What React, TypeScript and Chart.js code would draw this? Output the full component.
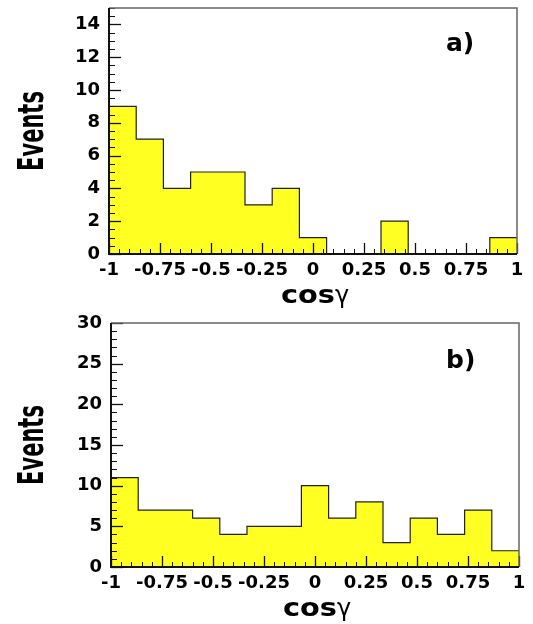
import React, { useEffect, useRef } from 'react';
import { Chart, registerables } from 'chart.js';

Chart.register(...registerables);

// ---- data ----
const xMin = -1;
const xMax = 1;
const eventsA = [9, 7, 4, 5, 5, 3, 4, 1, 0, 0, 2, 0, 0, 0, 1];
const eventsB = [11, 7, 7, 6, 4, 5, 5, 10, 6, 8, 3, 6, 4, 7, 2];
const xTickValues = [-1, -0.75, -0.5, -0.25, 0, 0.25, 0.5, 0.75, 1];
const xTickLabels = ['-1', '-0.75', '-0.5', '-0.25', '0', '0.25', '0.5', '0.75', '1'];
const yTicksA = [0, 2, 4, 6, 8, 10, 12, 14];
const yTicksB = [0, 5, 10, 15, 20, 25, 30];
const yMaxA = 15;
const yMaxB = 30;
const panelLabels = ['a)', 'b)'];
const xTitleMain = 'cos';
const xTitleSymbol = 'γ';
const yTitle = 'Events';

const FILL = '#ffff22';
const FONT = '"DejaVu Sans", "Liberation Sans", sans-serif';

function stepPoints(values: number[]) {
  const w = (xMax - xMin) / values.length;
  const pts = values.map((v, i) => ({ x: xMin + i * w, y: v }));
  pts.push({ x: xMax, y: values[values.length - 1] });
  return pts;
}

type PanelCfg = {
  values: number[];
  yTicks: number[];
  yMax: number;
  yMinor: number;
  label: string;
  top: number;
  right: number;
  axisWidth: number;
  xAxisHeight: number;
  labelDy: number;
};

const panels: PanelCfg[] = [
  { values: eventsA, yTicks: yTicksA, yMax: yMaxA, yMinor: 0.5, label: panelLabels[0], top: 8, right: 16, axisWidth: 109, xAxisHeight: 58, labelDy: 43 },
  { values: eventsB, yTicks: yTicksB, yMax: yMaxB, yMinor: 1, label: panelLabels[1], top: 11, right: 14, axisWidth: 111, xAxisHeight: 57, labelDy: 45 },
];

function makeDecorPlugin(cfg: PanelCfg) {
  return {
    id: 'decor',
    afterDatasetsDraw(chart: any) {
      const { ctx, chartArea: a, scales } = chart;
      const xs = scales.x;
      const ys = scales.y;
      ctx.save();
      ctx.strokeStyle = '#111';
      // x ticks (inside)
      const nx = Math.round((xMax - xMin) / 0.05);
      for (let i = 0; i <= nx; i++) {
        const v = xMin + i * 0.05;
        const major = xTickValues.some((t) => Math.abs(t - v) < 1e-6);
        const px = Math.round(xs.getPixelForValue(v)) + 0.5;
        ctx.lineWidth = major ? 1.3 : 1;
        ctx.beginPath();
        ctx.moveTo(px, a.bottom);
        ctx.lineTo(px, a.bottom - (major ? 11 : 5));
        ctx.stroke();
      }
      // y ticks (inside)
      const ny = Math.round(cfg.yMax / cfg.yMinor);
      for (let i = 0; i <= ny; i++) {
        const v = i * cfg.yMinor;
        const major = cfg.yTicks.some((t) => Math.abs(t - v) < 1e-6);
        const py = Math.round(ys.getPixelForValue(v)) + 0.5;
        ctx.lineWidth = major ? 1.3 : 1;
        ctx.beginPath();
        ctx.moveTo(a.left, py);
        ctx.lineTo(a.left + (major ? 12 : 6), py);
        ctx.stroke();
      }
      // frame
      ctx.strokeStyle = '#666';
      ctx.lineWidth = 1.5;
      ctx.beginPath();
      ctx.moveTo(a.left, a.top);
      ctx.lineTo(a.right, a.top);
      ctx.lineTo(a.right, a.bottom);
      ctx.stroke();
      ctx.strokeStyle = '#111';
      ctx.lineWidth = 2;
      ctx.beginPath();
      ctx.moveTo(a.left, a.top);
      ctx.lineTo(a.left, a.bottom);
      ctx.lineTo(a.right, a.bottom);
      ctx.stroke();
      ctx.restore();
    },
    afterDraw(chart: any) {
      const { ctx, chartArea: a } = chart;
      ctx.save();
      ctx.fillStyle = '#000';
      // y title
      const fs = 35;
      ctx.save();
      ctx.translate(30, (a.top + a.bottom) / 2);
      ctx.rotate(-Math.PI / 2);
      ctx.scale(0.6, 1);
      ctx.font = `bold ${fs}px ${FONT}`;
      ctx.textAlign = 'center';
      ctx.textBaseline = 'alphabetic';
      ctx.fillText(yTitle, 0, fs * 0.36);
      ctx.restore();
      // x title
      const cx = (a.left + a.right) / 2 + 2;
      const base = a.bottom + 49;
      ctx.font = `bold 24px ${FONT}`;
      const wMain = ctx.measureText(xTitleMain).width * 1.2;
      ctx.font = `24px ${FONT}`;
      const wSym = ctx.measureText(xTitleSymbol).width;
      const startX = cx - (wMain + wSym) / 2;
      ctx.save();
      ctx.translate(startX, base);
      ctx.scale(1.2, 1);
      ctx.font = `bold 24px ${FONT}`;
      ctx.textAlign = 'left';
      ctx.textBaseline = 'alphabetic';
      ctx.fillText(xTitleMain, 0, 0);
      ctx.restore();
      ctx.font = `24px ${FONT}`;
      ctx.textAlign = 'left';
      ctx.textBaseline = 'alphabetic';
      ctx.fillText(xTitleSymbol, startX + wMain, base);
      // panel label
      ctx.font = `bold 25px ${FONT}`;
      ctx.fillText(cfg.label, 446, a.top + cfg.labelDy);
      ctx.restore();
    },
  };
}

function Panel({ cfg }: { cfg: PanelCfg }) {
  const ref = useRef<HTMLCanvasElement | null>(null);
  useEffect(() => {
    if (!ref.current) return;
    const tickFont = { family: FONT, weight: 'bold' as const, size: 18 };
    const chart = new Chart(ref.current, {
      type: 'line',
      data: {
        datasets: [
          {
            data: stepPoints(cfg.values),
            stepped: 'before',
            fill: 'origin',
            backgroundColor: FILL,
            borderColor: '#222',
            borderWidth: 1.2,
            pointRadius: 0,
          },
        ],
      },
      options: {
        responsive: false,
        animation: false,
        events: [],
        layout: { padding: { top: cfg.top, right: cfg.right, left: 0, bottom: 0 } },
        plugins: { legend: { display: false }, tooltip: { enabled: false } },
        scales: {
          x: {
            type: 'linear',
            min: xMin,
            max: xMax,
            afterBuildTicks: (s: any) => {
              s.ticks = xTickValues.map((v) => ({ value: v }));
            },
            afterFit: (s: any) => {
              s.height = cfg.xAxisHeight;
              s.paddingLeft = 0;
              s.paddingRight = 0;
              s.paddingTop = 0;
              s.paddingBottom = 0;
            },
            ticks: {
              autoSkip: false,
              maxRotation: 0,
              minRotation: 0,
              padding: 6,
              color: '#000',
              font: tickFont,
              callback: (_v: any, i: number) => xTickLabels[i],
            },
            grid: { display: false, drawTicks: false },
            border: { display: false },
          },
          y: {
            type: 'linear',
            min: 0,
            max: cfg.yMax,
            afterBuildTicks: (s: any) => {
              s.ticks = cfg.yTicks.map((v) => ({ value: v }));
            },
            afterFit: (s: any) => {
              s.width = cfg.axisWidth;
              s.paddingLeft = 0;
              s.paddingRight = 0;
              s.paddingTop = 0;
              s.paddingBottom = 0;
            },
            ticks: {
              padding: 9,
              color: '#000',
              font: tickFont,
              callback: (v: any) => String(v),
            },
            grid: { display: false, drawTicks: false },
            border: { display: false },
          },
        },
      },
      plugins: [makeDecorPlugin(cfg)],
    } as any);
    return () => chart.destroy();
  }, [cfg]);
  return <canvas ref={ref} width={533} height={312} style={{ display: 'block', width: 533, height: 312 }} />;
}

export default function App() {
  return (
    <div style={{ position: 'absolute', left: 0, top: 0, width: 533, height: 624, background: '#fff' }}>
      {panels.map((p, i) => (
        <Panel key={i} cfg={p} />
      ))}
    </div>
  );
}
